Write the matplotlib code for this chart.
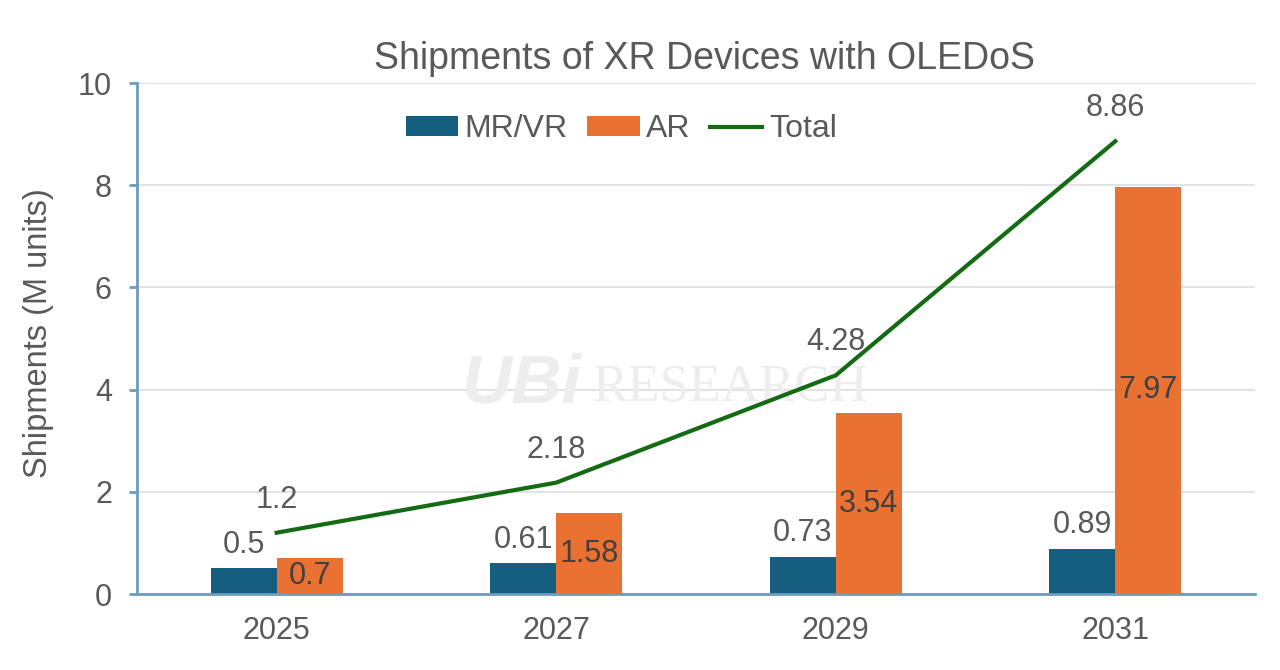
import matplotlib
matplotlib.use("Agg")
import matplotlib.pyplot as plt
import numpy as np

years = ["2025", "2027", "2029", "2031"]
mr_vr = [0.5, 0.61, 0.73, 0.89]
ar = [0.7, 1.58, 3.54, 7.97]
total = [1.2, 2.18, 4.28, 8.86]
yticks = [0, 2, 4, 6, 8, 10]

plt.rcParams['font.family'] = ['Liberation Sans', 'DejaVu Sans']
TXT = '#595959'
BLUE = '#155e7f'
ORANGE = '#e97132'
GREEN = '#146b14'
SPINE = '#6d9cbd'

fig = plt.figure(figsize=(12.8, 6.7), dpi=100)
ax = fig.add_axes([0.107, 0.1134, 0.8735, 0.7627])

x = np.arange(len(years))
w = 0.236
b1 = ax.bar(x - w/2, mr_vr, w, color=BLUE, label='MR/VR', zorder=3)
b2 = ax.bar(x + w/2, ar, w, color=ORANGE, label='AR', zorder=3)
ln, = ax.plot(x, total, color=GREEN, lw=3, label='Total', zorder=4)

fs = 22
for xi, v in zip(x, mr_vr):
    ax.annotate(f"{v:g}", (xi - w/2, v), xytext=(0, 6), textcoords='offset points',
                ha='center', va='bottom', fontsize=fs, color=TXT, zorder=5)
for xi, v in zip(x, ar):
    ax.annotate(f"{v:g}", (xi + w/2, v/2), ha='center', va='center',
                fontsize=fs, color='#404040', zorder=5)
for xi, v in zip(x, total):
    ax.annotate(f"{v:g}", (xi, v), xytext=(0, 13), textcoords='offset points',
                ha='center', va='bottom', fontsize=fs, color=TXT, zorder=5)

ax.set_xlim(-0.5, len(years) - 0.5)
ax.set_ylim(0, 10)
ax.set_yticks(yticks)
ax.set_xticks(x)
ax.set_xticklabels(years)
ax.tick_params(axis='x', length=0, pad=16, labelsize=fs, labelcolor=TXT)
ax.tick_params(axis='y', length=6, width=2, color=SPINE, pad=12, labelsize=fs, labelcolor=TXT)
ax.grid(axis='y', color='#e3e3e3', lw=1.5, zorder=0)
ax.set_axisbelow(True)
for s in ['top', 'right']:
    ax.spines[s].set_visible(False)
for s in ['left', 'bottom']:
    ax.spines[s].set_color(SPINE)
    ax.spines[s].set_linewidth(2)
ax.spines['bottom'].set_zorder(6)

ax.set_ylabel("Shipments (M units)", fontsize=23.5, color=TXT, labelpad=10)
ax.yaxis.set_label_coords(-0.074, 0.51)
fig.text(0.55, 0.912, "Shipments of XR Devices with OLEDoS", ha='center', va='center',
         fontsize=27, color=TXT)

# watermark
ax.text(1.09, 4.1, "UBi", ha='right', va='center', fontsize=50,
        color='#ededed', zorder=1, fontweight='bold', fontstyle='italic')
ax.text(1.13, 4.05, "RESEARCH", ha='left', va='center', fontsize=38,
        color='#ededed', zorder=1, family='Liberation Serif')

leg = ax.legend(handles=[b1, b2, ln], loc='upper center', bbox_to_anchor=(0.433, 0.995),
                ncol=3, frameon=False, fontsize=23, labelcolor=TXT,
                handlelength=1.65, handleheight=0.55, handletextpad=0.2, columnspacing=0.6)

fig.savefig("out.png", dpi=100)
